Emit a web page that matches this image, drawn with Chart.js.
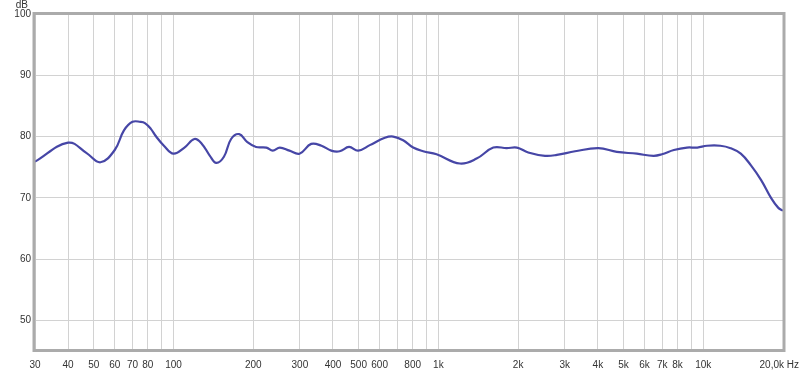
<!DOCTYPE html>
<html>
<head>
<meta charset="utf-8">
<script src="https://cdn.jsdelivr.net/npm/chart.js@4.4.1/dist/chart.umd.min.js"></script>
<style>
  html, body { margin: 0; padding: 0; background: #fff; }
  #wrap { width: 800px; height: 371px; }
</style>
</head>
<body>
<div id="wrap"><canvas id="spl"></canvas></div>
<script>
const freqs = [30, 40, 47, 53, 60, 65, 70, 75, 78, 82, 86, 92, 100, 110, 120, 128, 137, 145, 155, 165, 177, 190,
    205, 224, 237, 252, 274, 299, 331, 362, 394, 424, 460, 498, 551, 628, 675, 736, 803, 876, 984,
    1206, 1394, 1612, 1811, 1978, 2184, 2527, 2800, 3281, 4018, 4718, 5612, 6486, 6979, 7745, 8676,
    9496, 10326, 11606, 12683, 13858, 15138, 16540, 18070, 19170, 20000];
const spl_db = [75.9, 79.0, 77.3, 75.8, 77.8, 81.0, 82.4, 82.4, 82.2, 81.3, 80.0, 78.5, 77.2, 78.2, 79.6, 78.8, 76.9, 75.7, 76.7, 79.6, 80.4, 79.1,
    78.3, 78.2, 77.7, 78.2, 77.7, 77.2, 78.8, 78.5, 77.7, 77.6, 78.3, 77.7, 78.6, 79.8, 80.0, 79.4, 78.2, 77.6, 77.1,
    75.6, 76.4, 78.2, 78.1, 78.2, 77.4, 76.85, 77.0, 77.6, 78.1, 77.5, 77.2, 76.85, 77.1, 77.8, 78.2,
    78.2, 78.5, 78.5, 78.1, 77.2, 75.3, 72.9, 69.9, 68.4, 67.9];

// x grid lines and their labels ('' = line without label)
const x_grid = [30, 40, 50, 60, 70, 80, 90, 100, 200, 300, 400, 500, 600, 700, 800, 900,
    1000, 2000, 3000, 4000, 5000, 6000, 7000, 8000, 9000, 10000, 20000];
const x_labels = ['30', '40', '50', '60', '70', '80', '', '100', '200', '300', '400', '500', '600', '', '800', '',
    '1k', '2k', '3k', '4k', '5k', '6k', '7k', '8k', '', '10k', ''];
const last_label = '20,0k Hz';
const y_ticks = [50, 60, 70, 80, 90, 100];

const tickFont = { family: 'Liberation Sans, Arial, sans-serif', size: 10 };

const framePlugin = {
    id: 'frame',
    afterDraw(chart) {
        const { ctx, chartArea: a } = chart;
        ctx.save();
        ctx.strokeStyle = '#ababab';
        ctx.lineWidth = 3;
        ctx.strokeRect(a.left - 1, a.top - 0.5, a.right - a.left + 2, a.bottom - a.top);
        ctx.fillStyle = '#333';
        ctx.font = '10px Liberation Sans, Arial, sans-serif';
        ctx.textAlign = 'right';
        ctx.textBaseline = 'alphabetic';
        ctx.fillText('dB', a.left - 7, a.top - 6);
        ctx.fillText(last_label, chart.width - 1, chart.height - 3);
        ctx.restore();
    }
};

new Chart(document.getElementById('spl'), {
    type: 'line',
    data: {
        datasets: [{
            data: freqs.map((f, i) => ({ x: f, y: spl_db[i] })),
            borderColor: '#4646a6',
            borderWidth: 2.2,
            pointRadius: 0,
            tension: 0.4,
            fill: false
        }]
    },
    options: {
        responsive: true,
        maintainAspectRatio: false,
        animation: false,
        layout: { padding: { top: 14, right: 17, left: 0, bottom: 0 } },
        plugins: { legend: { display: false }, tooltip: { enabled: false } },
        scales: {
            x: {
                type: 'logarithmic',
                min: 30,
                max: 20000,
                afterBuildTicks: s => { s.ticks = x_grid.map(v => ({ value: v })); },
                afterFit: s => { s.height = 20; },
                border: { display: false },
                grid: { color: '#d2d2d2', lineWidth: 1, drawTicks: false },
                ticks: {
                    autoSkip: false,
                    maxRotation: 0,
                    padding: 8,
                    color: '#333',
                    font: tickFont,
                    callback: (v) => {
                        const i = x_grid.indexOf(v);
                        return i >= 0 ? x_labels[i] : '';
                    }
                }
            },
            y: {
                min: 45,
                max: 100,
                afterBuildTicks: s => { s.ticks = y_ticks.map(v => ({ value: v })); },
                afterFit: s => { s.width = 35; },
                border: { display: false },
                grid: { color: '#d2d2d2', lineWidth: 1, drawTicks: false },
                ticks: { padding: 4, color: '#333', font: tickFont }
            }
        }
    },
    plugins: [framePlugin]
});
</script>
</body>
</html>
